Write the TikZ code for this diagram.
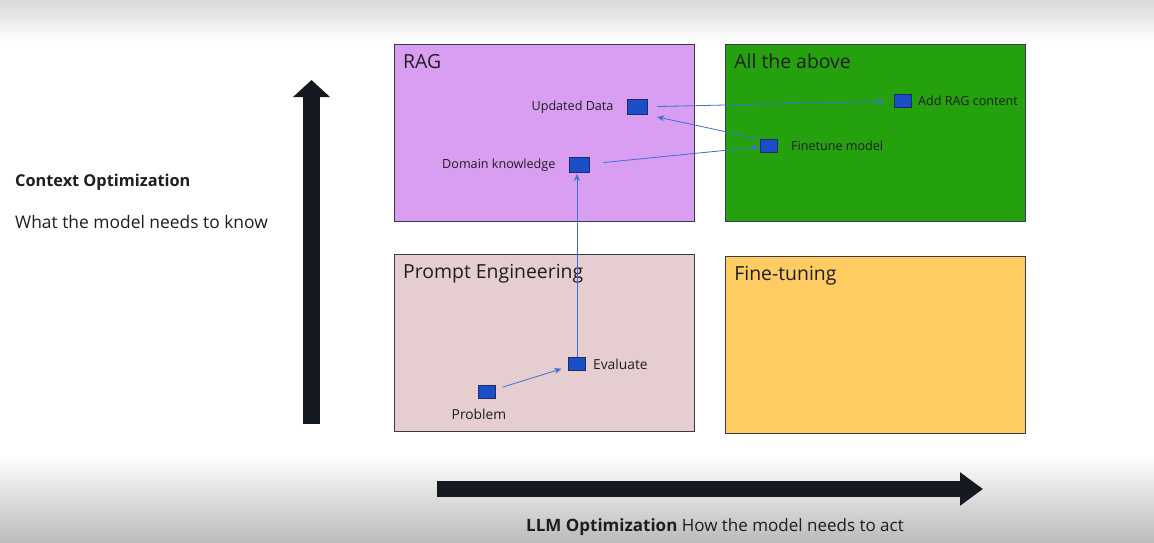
\documentclass[tikz,border=0pt]{standalone}
\usepackage{fontspec}
\setmainfont{Open Sans}
\usetikzlibrary{arrows.meta,positioning,calc}
\definecolor{ragfill}{HTML}{D99DF2}
\definecolor{allfill}{HTML}{26A10E}
\definecolor{promptfill}{HTML}{E5CDD0}
\definecolor{tunefill}{HTML}{FECC63}
\definecolor{quadline}{HTML}{3A3A48}
\definecolor{blkfill}{HTML}{1A4FC8}
\definecolor{blkline}{HTML}{1B2A6B}
\definecolor{flow}{HTML}{3D6FD6}
\definecolor{axisink}{HTML}{151922}
\definecolor{ink}{HTML}{1E1E1E}
\tikzset{
  quad/.style={
    rectangle, draw=quadline, fill=#1, line width=1.2pt,
    minimum width=300pt, minimum height=177pt,
    inner sep=0pt
  },
  quad/.default=ragfill,
  quadtitle/.style={
    font=\fontsize{19.4}{23}\selectfont, text=ink, inner sep=0pt
  },
  blk/.style={
    rectangle, draw=blkline, fill=blkfill, line width=0.8pt,
    minimum width=17pt, minimum height=13pt, inner sep=0pt
  },
  blkbig/.style={
    blk, minimum width=20pt, minimum height=15pt
  },
  itemlabel/.style={
    font=\fontsize{12.6}{15}\selectfont, text=ink, inner sep=1pt
  },
  flowarrow/.style={
    -{Stealth[length=7pt, width=6pt]}, color=flow, line width=0.8pt
  },
  axisarrow/.style={
    line width=#1, color=axisink
  },
  axisarrow/.default=17pt,
  sidetext/.style={
    font=\fontsize{#1}{19}\selectfont, text=ink, inner sep=0pt, anchor=west
  },
  sidetext/.default=17.4,
}
\begin{document}
\begin{tikzpicture}[x=1pt, y=-1pt]
  \useasboundingbox (0,0) rectangle (1154,543);

  % background
  \fill[white] (0,0) rectangle (1154,543);
  \shade[top color=black!15, bottom color=white] (0,0) rectangle (1154,42);
  \shade[top color=white, bottom color=black!27] (0,455) rectangle (1154,543);

  % Quadrants
  \node[quad=ragfill, anchor=north west] (rag) at (394,44) {};
  \node[quad=allfill, right=30pt of rag] (all) {};
  \node[quad=promptfill, below=32pt of rag] (prompt) {};
  \node[quad=tunefill, below=34pt of all] (tune) {};
  \node[quadtitle, below right=10pt and 9pt of rag.north west] {RAG};
  \node[quadtitle, below right=10pt and 9pt of all.north west] {All the above};
  \node[quadtitle, below right=10pt and 9pt of prompt.north west] {Prompt Engineering};
  \node[quadtitle, below right=10pt and 9pt of tune.north west] {Fine-tuning};

  % Steps
  \node[blkbig] (upd) at (637,107) {};
  \node[itemlabel, left=12pt of upd] {Updated Data};
  \node[blkbig] (dom) at (579,165) {};
  \node[itemlabel, left=12pt of dom] {Domain knowledge};
  \node[blk] (add) at (903,101) {};
  \node[itemlabel, right=5pt of add] {Add RAG content};
  \node[blk] (fine) at (769,146) {};
  \node[itemlabel, right=12pt of fine] {Finetune model};
  \node[blk] (eval) at (577,364) {};
  \node[itemlabel, font=\fontsize{13.8}{16}\selectfont, right=6pt of eval] {Evaluate};
  \node[blk] (prob) at (487,392) {};
  \node[itemlabel, font=\fontsize{13.8}{16}\selectfont, below=9pt of prob, xshift=-8pt] {Problem};

  \draw[flowarrow, shorten <=7pt, shorten >=7pt] (prob) -- (eval);
  \draw[flowarrow, shorten >=1pt] (eval.north) -- (eval.north |- dom.south);
  \draw[flowarrow, shorten <=14pt, shorten >=1pt] (dom) -- (fine);
  \draw[flowarrow, shorten >=10pt] (fine.north west) -- (upd.south east);
  \draw[flowarrow, shorten <=10pt, shorten >=10pt] (upd) -- (add);

  % Axes
  \coordinate (ybase) at (311.5,424);
  \coordinate (ytip) at (311.5,80);
  \draw[axisarrow=17pt, -{Triangle[length=17pt, width=36pt]}] (ybase) -- (ytip);
  \coordinate (xbase) at (437,489);
  \coordinate (xtip) at (983,489);
  \draw[axisarrow=16pt, -{Triangle[length=23pt, width=32pt]}] (xbase) -- (xtip);

  \node[sidetext=16.3] (ctx) at (15,182) {\bfseries Context Optimization};
  \node[sidetext] (know) at (15,222) {What the model needs to know};
  \node[sidetext=17, anchor=center] (llm) at (715,527)
    {\textbf{LLM Optimization} How the model needs to act};
\end{tikzpicture}
\end{document}
